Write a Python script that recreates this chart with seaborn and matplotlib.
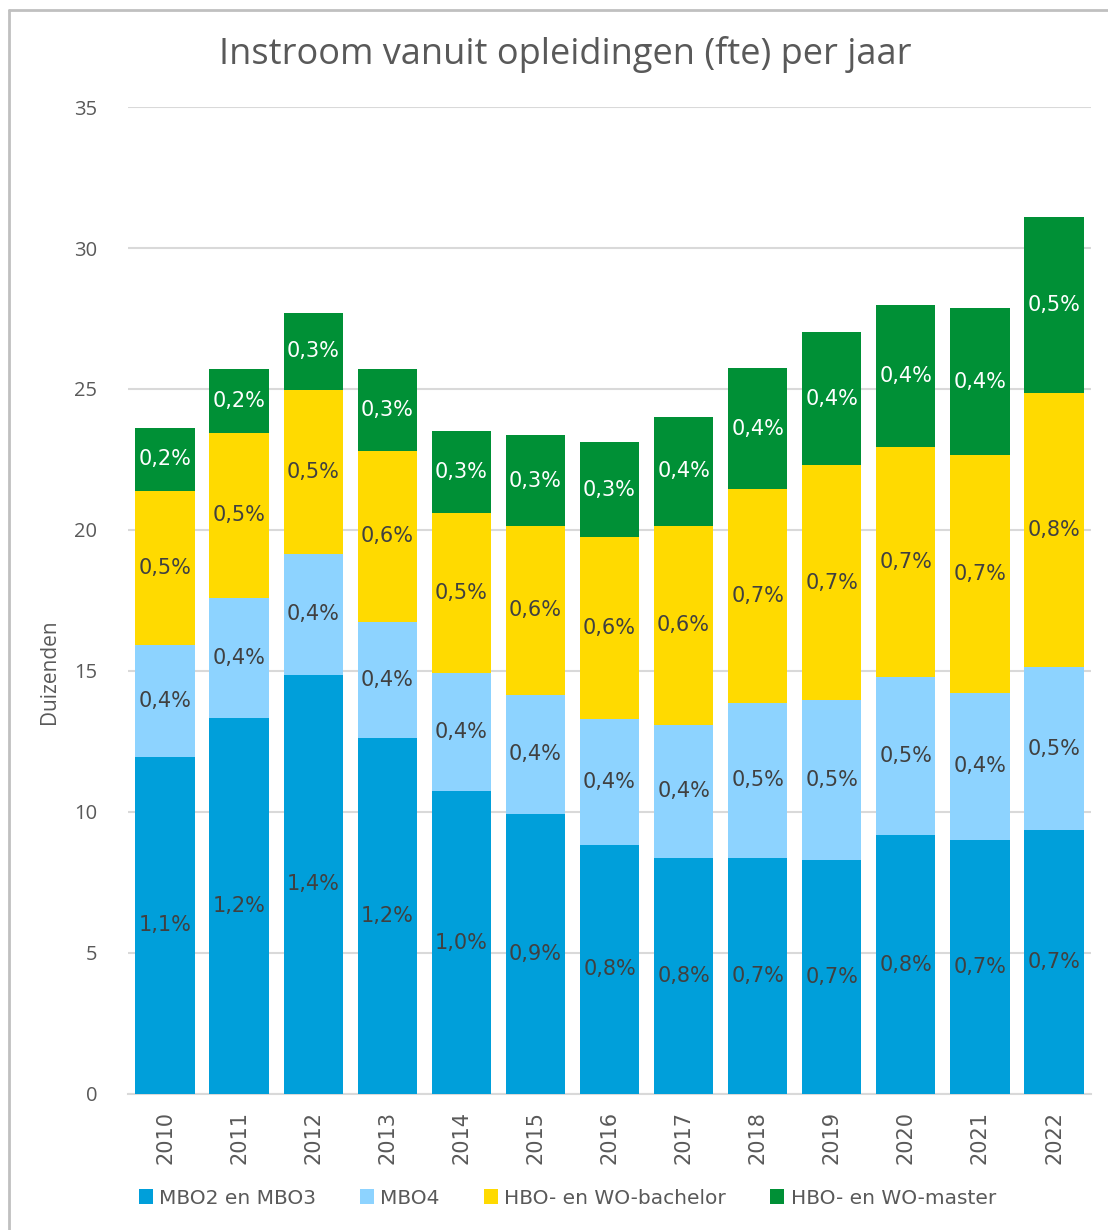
import matplotlib
matplotlib.use("Agg")
import matplotlib.pyplot as plt
from matplotlib.patches import Patch
from matplotlib.lines import Line2D
import numpy as np
import pandas as pd
import seaborn as sns

# data (duizenden fte)
jaren = ["2010", "2011", "2012", "2013", "2014", "2015", "2016",
         "2017", "2018", "2019", "2020", "2021", "2022"]
mbo23 = [11.95, 13.33, 14.86, 12.62, 10.74, 9.93, 8.83, 8.37, 8.37, 8.30, 9.18, 9.01, 9.36]
mbo4 = [3.97, 4.26, 4.29, 4.12, 4.19, 4.22, 4.47, 4.72, 5.50, 5.67, 5.61, 5.21, 5.78]
hbo_bachelor = [5.46, 5.85, 5.81, 6.06, 5.67, 5.99, 6.45, 7.05, 7.58, 8.33, 8.15, 8.44, 9.72]
hbo_master = [2.24, 2.27, 2.74, 2.91, 2.91, 3.23, 3.37, 3.87, 4.29, 4.72, 5.04, 5.21, 6.24]

# percentage labels shown in the bars
lbl_mbo23 = ["1,1%", "1,2%", "1,4%", "1,2%", "1,0%", "0,9%", "0,8%", "0,8%", "0,7%", "0,7%", "0,8%", "0,7%", "0,7%"]
lbl_mbo4 = ["0,4%", "0,4%", "0,4%", "0,4%", "0,4%", "0,4%", "0,4%", "0,4%", "0,5%", "0,5%", "0,5%", "0,4%", "0,5%"]
lbl_bachelor = ["0,5%", "0,5%", "0,5%", "0,6%", "0,5%", "0,6%", "0,6%", "0,6%", "0,7%", "0,7%", "0,7%", "0,7%", "0,8%"]
lbl_master = ["0,2%", "0,2%", "0,3%", "0,3%", "0,3%", "0,3%", "0,3%", "0,4%", "0,4%", "0,4%", "0,4%", "0,4%", "0,5%"]

series = ["MBO2 en MBO3", "MBO4", "HBO- en WO-bachelor", "HBO- en WO-master"]
kleuren = ["#009fda", "#8dd3ff", "#ffda00", "#009036"]
tekstkleur = ["#404040", "#404040", "#404040", "white"]

sns.set_style("white")
plt.rcParams["font.family"] = ["DejaVu Sans"]

fig = plt.figure(figsize=(11.08, 12.3), dpi=100)
ax = fig.add_axes([0.1155, 0.1106, 0.8692, 0.8024])

df = pd.DataFrame({"jaar": jaren, series[0]: mbo23, series[1]: mbo4,
                   series[2]: hbo_bachelor, series[3]: hbo_master})
labels = [lbl_mbo23, lbl_mbo4, lbl_bachelor, lbl_master]

bottom = np.zeros(len(jaren))
for i, s in enumerate(series):
    vals = df[s].values
    sns.barplot(x=df["jaar"], y=vals + bottom, color=kleuren[i], ax=ax,
                width=0.8, saturation=1, zorder=10 - i, edgecolor="none")
    mid = bottom + vals / 2
    for j in range(len(jaren)):
        ax.text(j, mid[j], labels[i][j], ha="center", va="center",
                fontsize=15, color=tekstkleur[i], zorder=20, family="DejaVu Sans")
    bottom = bottom + vals

ax.set_xlim(-0.5, len(jaren) - 0.5)
ax.set_ylim(0, 35)
ax.set_yticks(range(0, 36, 5))
ax.yaxis.grid(True, color="#d9d9d9", linewidth=1.5, zorder=0)
ax.set_axisbelow(True)
for sp in ["top", "right", "left"]:
    ax.spines[sp].set_visible(False)
ax.spines["bottom"].set_color("#d9d9d9")
ax.spines["bottom"].set_linewidth(1.5)
ax.tick_params(axis="both", length=0)
ax.tick_params(axis="y", pad=22)
ax.tick_params(axis="x", pad=12)
for t in ax.get_yticklabels():
    t.set_fontfamily("Open Sans")
    t.set_fontsize(14.5)
    t.set_color("#595959")
for t in ax.get_xticklabels():
    t.set_rotation(90)
    t.set_fontsize(15)
    t.set_color("#595959")
ax.set_xlabel("")
ax.set_ylabel("Duizenden", fontsize=15, color="#595959", family="Open Sans", labelpad=12)
ax.yaxis.set_label_coords(-0.071, 0.4276)

fig.text(0.51, 0.956, "Instroom vanuit opleidingen (fte) per jaar", ha="center",
         va="center", fontsize=26, color="#595959", family="Open Sans")

handles = [Patch(facecolor=k, edgecolor="none") for k in kleuren]
fig.legend(handles, series, loc="center", bbox_to_anchor=(0.512, 0.026), ncol=4,
           frameon=False, fontsize=14.5, labelcolor="#595959", handlelength=0.7,
           handleheight=0.7, handletextpad=0.3, columnspacing=2.2)

# grey border at left and top
fig.add_artist(Line2D([9 / 1108, 9 / 1108], [0, 1 - 10 / 1230], color="#c0c0c0",
                      linewidth=2, transform=fig.transFigure))
fig.add_artist(Line2D([9 / 1108, 1], [1 - 10 / 1230, 1 - 10 / 1230], color="#c0c0c0",
                      linewidth=2, transform=fig.transFigure))

fig.savefig("out.png", dpi=100)
